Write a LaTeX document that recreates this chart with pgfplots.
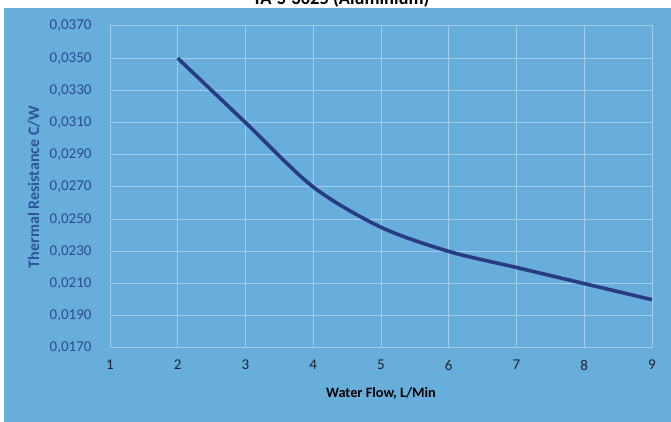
\documentclass[border=0pt]{standalone}
\usepackage{pgfplots}
\pgfplotsset{compat=1.18}
\usepackage{fontspec}
\setmainfont{Carlito}
\definecolor{bgblue}{HTML}{67AEDB}
\definecolor{linenavy}{HTML}{2A3B85}
\definecolor{ytick}{HTML}{2C4A8C}
\definecolor{ylab}{HTML}{2F5597}
\definecolor{xtick}{HTML}{1E2430}
\definecolor{gridc}{HTML}{A3CDEB}
\begin{document}
\begin{tikzpicture}[x=1pt,y=1pt]
\useasboundingbox (0,0) rectangle (671,422);
\fill[white] (0,0) rectangle (671,422);
\fill[bgblue] (4,0) rectangle (671,414);
\node[font={\fontsize{18.5}{20}\selectfont\bfseries}, text=black, anchor=base] at (341,417) {TA-S-3025 (Aluminium)};
\begin{axis}[
  at={(110pt,74pt)}, anchor=south west,
  scale only axis, width=542pt, height=322pt,
  xmin=1, xmax=9, ymin=0.017, ymax=0.037,
  xtick={1,...,9},
  ytick={0.017,0.019,...,0.0371},
  grid=major,
  major grid style={draw=gridc, line width=1pt},
  axis line style={draw=gridc, line width=1pt},
  tick style={draw=none},
  scaled y ticks=false,
  /pgf/number format/assume math mode=true,
  yticklabel style={text=ytick, font={\fontsize{15}{17}\selectfont}, anchor=east, xshift=-15pt, /pgf/number format/.cd, fixed, fixed zerofill, precision=4, use comma},
  xticklabel style={text=xtick, font={\fontsize{15}{17}\selectfont}, anchor=center, yshift=-17pt},
  xlabel={Water Flow, L/Min},
  ylabel={Thermal Resistance C/W},
  xlabel style={font={\fontsize{14.3}{16}\selectfont\bfseries}, text=black, at={(axis description cs:0.5,0)}, anchor=center, yshift=-45pt},
  ylabel style={font={\fontsize{16}{18}\selectfont\bfseries}, text=ylab, at={(axis description cs:0,0.5)}, anchor=center, yshift=76pt},
]
\addplot[linenavy, line width=3.6pt, smooth, tension=0.5] coordinates {
(2,0.0350) (3,0.0310) (4,0.0270) (5,0.0245) (6,0.0230) (7,0.0220) (8,0.0210) (9,0.0200)
};
\end{axis}
\end{tikzpicture}
\end{document}
